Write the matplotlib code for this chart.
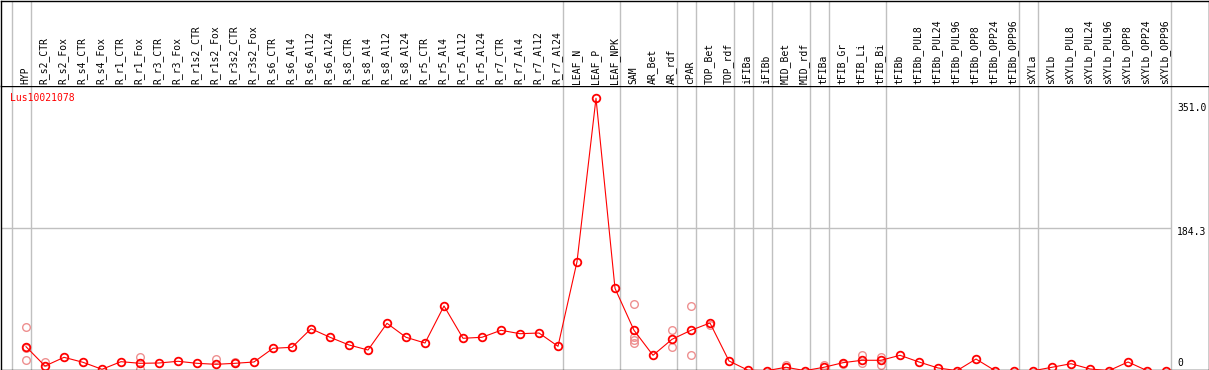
import matplotlib
matplotlib.use('Agg')
import matplotlib.pyplot as plt

# sample names along the top
samples = ['HYP', 'R_s2_CTR', 'R_s2_Fox', 'R_s4_CTR', 'R_s4_Fox', 'R_r1_CTR', 'R_r1_Fox',
           'R_r3_CTR', 'R_r3_Fox', 'R_r1s2_CTR', 'R_r1s2_Fox', 'R_r3s2_CTR', 'R_r3s2_Fox',
           'R_s6_CTR', 'R_s6_Al4', 'R_s6_Al12', 'R_s6_Al24', 'R_s8_CTR', 'R_s8_Al4',
           'R_s8_Al12', 'R_s8_Al24', 'R_r5_CTR', 'R_r5_Al4', 'R_r5_Al12', 'R_r5_Al24',
           'R_r7_CTR', 'R_r7_Al4', 'R_r7_Al12', 'R_r7_Al24', 'LEAF_N', 'LEAF_P', 'LEAF_NPK',
           'SAM', 'AR_Bet', 'AR_rdf', 'cPAR', 'TOP_Bet', 'TOP_rdf', 'iFIBa', 'iFIBb',
           'MID_Bet', 'MID_rdf', 'tFIBa', 'tFIB_Gr', 'tFIB_Li', 'tFIB_Bi', 'tFIBb',
           'tFIBb_PUL8', 'tFIBb_PUL24', 'tFIBb_PUL96', 'tFIBb_OPP8', 'tFIBb_OPP24',
           'tFIBb_OPP96', 'sXYLa', 'sXYLb', 'sXYLb_PUL8', 'sXYLb_PUL24', 'sXYLb_PUL96',
           'sXYLb_OPP8', 'sXYLb_OPP24', 'sXYLb_OPP96']

# mean expression per sample
means = [31.3, 6.4, 17.6, 11.2, 2.2, 12.0, 9.9, 10.3, 12.5, 9.9, 8.6, 9.9, 11.6,
         29.2, 30.5, 54.4, 43.4, 33.5, 27.0, 61.4, 43.4, 36.0, 83.7, 42.1, 43.4,
         52.4, 48.0, 48.9, 31.8, 140.7, 351.0, 106.4,
         52.4, 20.2, 40.8, 52.4, 61.8, 12.9, 1.0, 0.5,
         4.8, 0.5, 4.8, 10.7, 13.8, 13.8, 20.2,
         11.6, 3.9, 0.5, 15.4, 0.5, 0.3,
         0.3, 4.8, 9.4, 2.6, 0.5, 11.6, 0.5, 0.3]

# individual replicates (sample name, value)
rep_samples = ['HYP', 'HYP', 'HYP', 'R_s2_CTR', 'R_r1_Fox', 'R_r1_Fox', 'R_r1s2_Fox',
               'R_r3s2_CTR', 'SAM', 'SAM', 'SAM', 'SAM', 'AR_rdf', 'AR_rdf',
               'cPAR', 'cPAR', 'TOP_Bet', 'MID_Bet', 'tFIBa', 'tFIB_Gr',
               'tFIB_Li', 'tFIB_Li', 'tFIB_Bi', 'tFIB_Bi']
rep_values = [56.2, 13.8, 29.2, 11.2, 17.6, 2.5, 15.4,
              12.0, 86.2, 44.1, 39.9, 35.6, 52.4, 30.5,
              83.7, 20.2, 59.2, 7.3, 7.3, 9.0,
              20.2, 9.9, 17.6, 7.3]

# group sizes -> separator lines
group_sizes = [1, 28, 3, 3, 1, 2, 1, 1, 2, 1, 3, 7, 1, 7]

gene = 'Lus10021078'
ytick_vals = [351.0, 184.3, 0]
ytick_text = ['351.0', '184.3', '0']

W, H = 1209, 370
fig = plt.figure(figsize=(W / 100, H / 100), dpi=100)
font = 'DejaVu Sans Mono'

# pixel geometry
col0, step = 26, 19
left_px, right_px = 0.5, 1208.5
sep_px, bot_px = 86, 369.5
zero_px, px_per_unit = 371, 0.777

xlim = ((left_px - col0) / step, (right_px - col0) / step)
# zero sits just below the frame, so the bottom edge is a small positive value
ymin = (zero_px - bot_px) / px_per_unit
ymax = ymin + (bot_px - sep_px) / px_per_unit

ax = fig.add_axes([left_px / W, (H - bot_px) / H, (right_px - left_px) / W, (bot_px - sep_px) / H])
head = fig.add_axes([left_px / W, (H - sep_px) / H, (right_px - left_px) / W, (sep_px - 0.5) / H])

for a in (ax, head):
    a.set_xlim(*xlim)
    a.set_xticks([])
    a.set_yticks([])
    for s in a.spines.values():
        s.set_color('black')
        s.set_linewidth(1)
head.set_ylim(0, 1)
head.spines['bottom'].set_visible(False)
ax.set_ylim(ymin, ymax)

# separator lines
bounds = [-1]
for g in group_sizes:
    bounds.append(bounds[-1] + g)
for b in bounds:
    ax.axvline(b + 0.24, color='#c0c0c0', lw=1, zorder=0)
    head.axvline(b + 0.24, color='#c0c0c0', lw=1, zorder=0)
ax.hlines(184.3, xlim[0], bounds[-1] + 0.24, color='#c0c0c0', lw=1, zorder=0)

# sample labels
for i, name in enumerate(samples):
    head.text(i - 0.05, 0.02, name, rotation=90, ha='center', va='bottom',
              fontsize=7, family=font)

xs = list(range(len(samples)))
rep_x = [samples.index(s) for s in rep_samples]
ax.plot(rep_x, rep_values, 'o', ms=5.5, mfc='none', mec='#ee9090', mew=1.0, zorder=2)
ax.plot(xs, means, '-', color='red', lw=0.8, zorder=3)
ax.plot(xs, means, 'o', ms=5.5, mfc='none', mec='red', mew=1.3, zorder=4)

ax.text(-0.84, max(means), gene, color='red', fontsize=7, family=font,
        ha='left', va='center')

# value labels on the right
offsets = [-7.2, -3.3, 5.8]
for v, t, off in zip(ytick_vals, ytick_text, offsets):
    ax.annotate(t, (len(samples) - 0.42, v), xytext=(0, off), textcoords='offset points',
                fontsize=7, family=font, ha='left', va='center', annotation_clip=False)

fig.savefig('out.png', dpi=100)
